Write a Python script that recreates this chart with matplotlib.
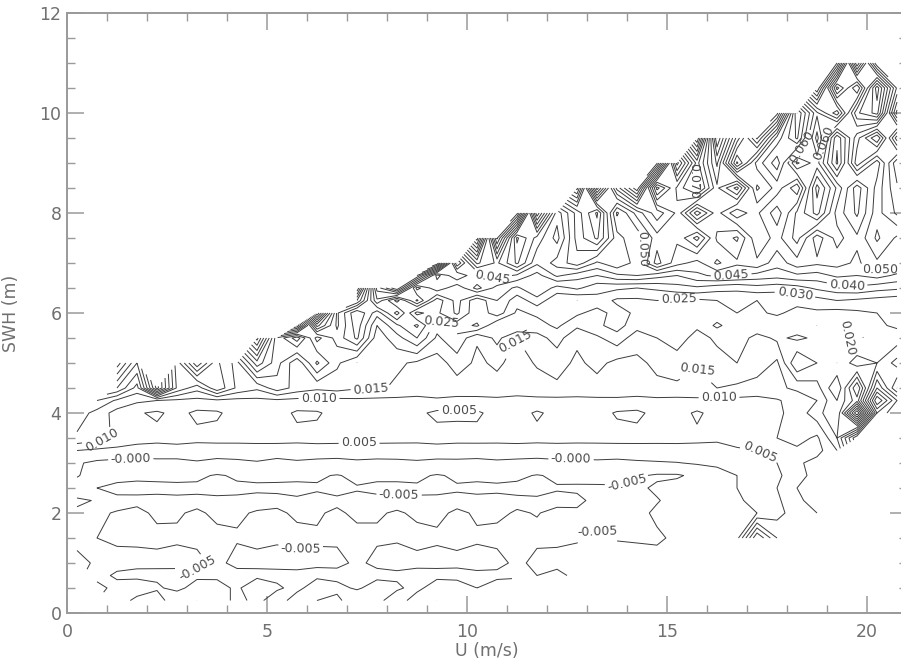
import numpy as np
import matplotlib
matplotlib.use("Agg")
import matplotlib.pyplot as plt

n = np.nan

# Wind speed (m/s) at the centre of each bin column
wind_speed = [0.25 + 0.5 * k for k in range(42)]

# Significant wave height (m) of each bin row, bottom to top
wave_height = [0.25, 0.5, 0.75, 1.0, 1.5, 2.0, 2.25, 2.5, 2.75, 3.0, 3.25,
               3.5, 4.0, 4.25, 4.5, 5.0, 5.5, 5.75, 6.0, 6.25, 6.5, 6.75,
               7.0, 7.5, 8.0, 8.5, 9.0, 9.5, 10.0, 10.5, 11.0]

# Binned anomaly (x 1e-3) per wave-height row: (first filled column, values)
rows_milli = {
    11.0: (38, [90, 30, 75]),
    10.5: (37, [95, 48, 70, 32, 66]),
    10.0: (35, [92, 40, 64, 78, 46, 38, 82]),
    9.5: (31, [95, 30, 62, 86, 58, 44, 72, 41, 63, 80, 47]),
    9.0: (29, [96, 38, 67, 44, 81, 58, 47, 71, 62, 39, 68, 52, 74]),
    8.5: (25, [92, 32, 72, 94, 43, 61, 74, 51, 38, 66, 58, 46, 77, 59, 42,
               57, 69]),
    8.0: (22, [18, 84, 47, 62, 76, 44, 57, 68, 59, 37, 53, 64, 56, 47, 61,
               72, 53, 44, 58, 66]),
    7.5: (20, [88, 24, 66, 53, 43, 62, 71, 52, 46, 58, 56, 67, 49, 44, 59,
               53, 62, 47, 57, 51, 61, 54]),
    7.0: (18, [90, 30, 56, 49, 61, 46, 52, 58, 49, 54, 48, 62, 52, 48, 56,
               51, 54, 47, 53, 51, 52, 49, 54, 51]),
    6.75: (17, [70, 38, 50, 40, 48, 44, 38, 46, 42, 40, 44, 45, 42, 40, 44,
                46, 45, 43, 42, 44, 43, 46, 45, 47, 44]),
    6.5: (14, [-5, 52, 70, 33, 44, 36, 47, 38, 34, 40, 33, 36, 32, 31, 30,
               31, 33, 34, 32, 31, 33, 32, 33, 36, 38, 39, 37, 36]),
    6.25: (14, [15, 44, 28, 46, 27, 37, 26, 35, 27, 33, 26, 25, 28, 24, 24,
                25, 24, 24, 25, 27, 25, 26, 27, 28, 30, 29, 28, 27]),
    6.0: (12, [70, 24, 40, 27, 42, 23, 29, 36, 26, 33, 24, 26, 27, 26, 23,
               27, 24, 22, 23.5, 23, 22, 25, 24, 26, 23, 24, 23, 24, 25, 26]),
    5.75: (11, [-5, 42, 24, 38, 20, 29, 36, 22, 27, 31, 20, 25, 23, 26, 21,
                24, 27, 22, 25, 23, 21, 26, 22, 24, 21, 23, 20, 21, 22, 24,
                26]),
    5.5: (9, [62, 26, 38, 18, 27, 36, 17, 23, 30, 19, 24, 15.5, 21.5, 15, 18,
              22, 16, 19, 23, 17, 20, 22.5, 18, 21, 23, 18, 21, 19, 21, 22,
              18, 24, 22]),
    5.0: (2, [48, 30, n, 22, 44, 26, 18, 38, 27, 16, 31, 21, 15, 19, 16, 14,
              12.5, 17.5, 14, 16, 13, 15.5, 17, 14, 16.5, 13.5, 14, 16, 17.5,
              15.5, 18, 20, 19, 14, 30, 25, 20, 28, 25, 32]),
    4.5: (2, [30, 18, 52, 24, 17, 29, 19, 16, 23, 18, 16, 17, 15.5, 16, 14,
              13, 14, 12.5, 13, 13, 12.5, 13, 14, 13.5, 13, 14, 13, 14, 14,
              13.5, 15, 14, 12, 14, 16, 18, 30, 5, 40, 20]),
    4.25: (1, [20, 14, 11, 10, 9, 8.5, 9, 8.5, 8.7, 9, 8.5, 8.8, 8.6, 9, 8.5,
               8.7, 8.5, 9, 8.8, 8.6, 9, 8.5, 8.8, 8.6, 8.5, 9, 8.7, 8.5, 8.8,
               8.6, 9, 8.5, 8.7, 9, 9.5, 12, 15, 25, 12, 55, 35]),
    4.0: (0, [18, 13, 8, 5.5, 4.2, 6.5, 4, 4.3, 7, 6.5, 7, 4.2, 4.4, 6.8, 7,
              6.5, 7, 6, 4, 4.3, 4.2, 6.8, 7, 4.3, 6.5, 7, 6.8, 4.5, 4, 6.5,
              7, 4.2, 6.8, 7, 8, 9, 12, 18, 25, -15, 40, 30]),
    3.5: (0, [14, 12, 9, 7, 6.5, 6.8, 6.2, 6.6, 6.4, 6.5, 6.7, 6.3, 6.5, 6.6,
              6.2, 6.4, 6.5, 6.3, 6.7, 6.4, 6.5, 6.3, 6.6, 6.4, 6.5, 6.2, 6.4,
              6.6, 6.5, 6.3, 6.2, 6, 5.5, 6.5, 8, 10, 12, 9, 20, 45]),
    3.25: (0, [5, 4, 3.5, 3, 2.8, 3.2, 3, 2.7, 3, 3.1, 2.8, 3, 3.2, 2.9, 3,
               3.1, 2.8, 3, 3.2, 3, 2.9, 3.1, 3, 2.8, 3, 3.2, 3, 2.9, 3.1, 3.3,
               3.5, 3.5, 4, 4.5, 5, 7, 9, 8, 15]),
    3.0: (0, [0.5, -1, -1.5, -1.8, -1.4, -1.6, -0.6, -1.5, -1.2, -0.5, -1.6,
              -0.8, -1.5, -1.7, -1, -1.5, -1.2, -0.8, -1.5, -1.3, -1.6, -1,
              -1.4, -1.7, -1.2, -1.5, -1, -1.3, -0.8, -0.5, -0.2, 0.5, 1, 2,
              3, 5, 9, 12]),
    2.75: (0, [0.5, -3, -4.2, -4.6, -4.3, -4.5, -4.4, -5.3, -4.6, -4.3, -4.5,
               -4.4, -4.6, -5.2, -4.3, -4.5, -4.2, -4.4, -5.3, -4.5, -4.6,
               -4.2, -4.4, -5.2, -4.5, -4.3, -4, -3.5, -4.5, -5.5, -5.5, -4,
               -2, 0, 1.5, 4, 8, 12]),
    2.5: (0, [-3, -5, -5.6, -5.5, -5.7, -5.4, -5.6, -5.8, -5.5, -5.5, -5.4,
              -5.6, -5.3, -5.7, -5.2, -5.5, -5.8, -5.4, -5.6, -5.3, -5.4, -5.5,
              -5.7, -5.4, -5.2, -5.3, -5.4, -5.5, -5.6, -4.5, -3.5, -2.5, -1.5,
              0, 2, 5, 10, 14]),
    2.25: (0, [-5.5, -4.8, -4.5, -4.6, -4.3, -4.7, -4.4, -4.5, -4.6, -4.2,
               -4.5, -4.7, -4.3, -4.6, -4.4, -4.5, -4.3, -4.7, -4.5, -4.4,
               -4.6, -4.3, -4.5, -4.8, -4.4, -4.6, -5.5, -5.6, -5.7, -5.2, -4,
               -3, -2, -0.5, 1, 4, 9, 12]),
    2.0: (0, [-4.5, -4.8, -5.1, -5.4, -4.7, -4.8, -5.3, -4.6, -4.7, -5.2,
              -5.3, -4.7, -4.8, -5.3, -4.6, -4.8, -5.2, -4.7, -4.6, -5.3, -4.8,
              -4.6, -5.2, -4.9, -5.5, -5.3, -5.6, -5.4, -5.8, -4.5, -4, -4.2,
              -3, -1.5, 0, 3, 8, 10]),
    1.5: (0, [-4, -5, -5.5, -5.4, -5.4, -5.3, -5.5, -5.5, -5.2, -5.4, -5.3,
              -5.5, -5.2, -5.4, -5.6, -5.3, -5.2, -5.5, -5.3, -5.4, -5.2, -5.6,
              -5.3, -5.5, -5.3, -5.2, -4.8, -5.2, -5.5, -5.4, -4.5, -4.8, -3,
              -2, 25, 10]),
    1.0: (0, [-6, -4.5, -4, -4.3, -4.5, -4.2, -4.4, -5.6, -4.3, -4.5, -4.2,
              -4.4, -4.6, -4.3, -5.5, -4.4, -4.2, -4.5, -4.3, -4.6, -4.4, -4.2,
              -5.6, -4.3, -4.5, -4.2, -4, -3.5, -3, -4, -3, -2]),
    0.75: (1, [-4, -5.5, -5.8, -5.6, -6, -5.7, -5.5, -5.9, -5.6, -5.8, -5.5,
               -5.7, -6, -5.6, -5.8, -5.5, -5.7, -5.9, -5.6, -5.4, -5.7, -5.5,
               -5, -5.5, -4.5, -4]),
    0.5: (1, [-6, -4, -3, -4.5, -6, -3.5, -4, -5.5, -3, -4.5, -6, -3, -4,
              -5.5, -3.5, -4.5, -6, -3, -4, -5, -3.5]),
    0.25: (2, [-3, -6, -7, -2, -5, -3, -6, -4, -7, -3, -5, -6, -2, -4, -7,
               -3, -5, -4]),
}

# Contour levels every 0.005 (nudged a hair so no level sits exactly on a bin value)
levels = np.round(np.arange(-0.100, 0.1501, 0.005), 3) + 1e-7

# Where the contour labels sit (U, SWH)
label_spots = [
    (0.9, 3.4), (1.6, 3.0), (3.3, 0.85), (5.8, 1.45), (7.6, 4.47), (6.3, 4.32),
    (7.3, 3.36), (8.3, 2.3), (9.3, 5.72), (9.8, 3.94), (10.6, 6.66),
    (11.1, 5.46), (12.6, 3.12), (13.1, 1.86), (14.1, 2.26), (14.3, 7.3),
    (15.3, 6.3), (15.8, 4.96), (16.3, 4.32), (16.6, 6.82), (17.3, 3.2),
    (18.2, 6.38), (19.2, 5.52), (19.5, 6.56), (20.3, 6.96), (18.5, 9.26),
    (18.9, 9.4), (15.6, 8.66),
]


def label_text(v):
    if abs(v) < 1e-6:
        return "-0.000"
    return f"{v:.3f}"


U = np.asarray(wind_speed, dtype=float)
H = np.asarray(wave_height, dtype=float)
Z = np.full((len(H), len(U)), np.nan)
for i, h in enumerate(H):
    start, vals = rows_milli[h]
    Z[i, start:start + len(vals)] = vals
Z = np.ma.masked_invalid(Z * 1e-3)

fig = plt.figure(figsize=(9.01, 6.62), dpi=100)
ax = fig.add_axes([67 / 901, 49 / 662, (907 - 67) / 901, 600 / 662])

line_col = "#3c3c3c"
axis_col = "#9a9a9a"
text_col = "#707070"

cs = ax.contour(U, H, Z, levels=levels, colors=line_col, linewidths=0.7,
                negative_linestyles="solid")
ax.clabel(cs, manual=label_spots, inline=True, fmt=label_text,
          fontsize=9, colors="#4a4a4a", inline_spacing=3)

ax.set_xlim(0, 21)
ax.set_ylim(0, 12)
ax.set_xticks([0, 5, 10, 15, 20])
ax.set_xticks(np.arange(0, 22, 1), minor=True)
ax.set_yticks([0, 2, 4, 6, 8, 10, 12])
ax.set_yticks(np.arange(0, 12.01, 0.5), minor=True)

for s in ax.spines.values():
    s.set_color(axis_col)
    s.set_linewidth(1.4)

ax.tick_params(which="both", direction="in", top=True, right=True,
               color=axis_col, labelcolor=text_col, labelsize=12.5)
ax.tick_params(which="major", length=12, width=1.1)
ax.tick_params(which="minor", length=5.5, width=1.0)
ax.tick_params(axis="x", which="major", pad=7)
ax.tick_params(axis="y", which="major", pad=4)

ax.set_xlabel("U (m/s)", color=text_col, fontsize=12.5, labelpad=1)
ax.set_ylabel("SWH (m)", color=text_col, fontsize=12.5, labelpad=14)

fig.savefig("out.png", dpi=100)
